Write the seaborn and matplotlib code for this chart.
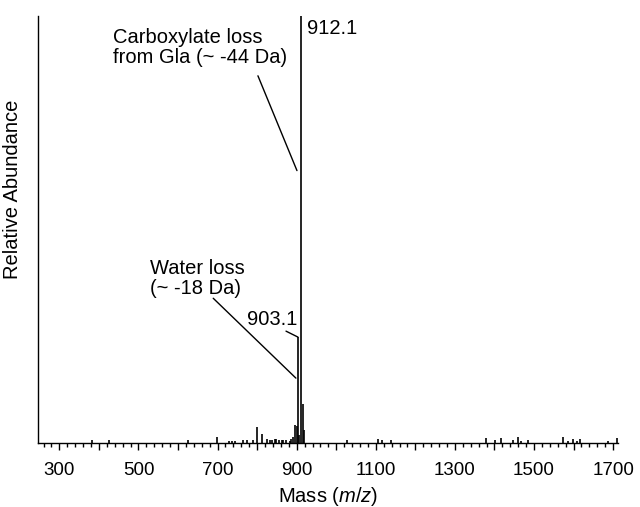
import numpy as np
import pandas as pd
import matplotlib
matplotlib.use("Agg")
import matplotlib.pyplot as plt
from matplotlib.ticker import MultipleLocator, FixedLocator
import seaborn as sns

# peak list (mass, relative abundance %)
masses = [383, 426, 625, 698, 729, 737, 744, 764, 774, 789, 800, 812, 825,
          832, 837, 845, 848, 855, 862, 865, 873, 883, 886, 890, 895, 900,
          903.1, 906, 912.1, 915, 918, 1026, 1105, 1115, 1138, 1378, 1401,
          1416, 1447, 1459, 1466, 1484, 1573, 1586, 1598, 1608, 1616, 1687,
          1710]
abundance = [0.7, 0.7, 0.7, 1.5, 0.5, 0.5, 0.5, 0.7, 0.7, 0.7, 3.7, 2.1, 0.9,
             0.6, 0.6, 0.9, 0.9, 0.7, 0.7, 0.7, 0.7, 0.5, 0.9, 1.4, 4.2, 4.0,
             24.8, 1.9, 100, 9.1, 3.0, 0.7, 0.9, 0.7, 0.7, 1.2, 0.7,
             1.2, 0.6, 1.4, 0.5, 0.7, 1.4, 0.5, 0.9, 0.5, 0.9, 0.5,
             1.2]
tick_labels = ["300", "500", "700", "900", "1100", "1300", "1500", "1700"]

df = pd.DataFrame({"mass": masses, "abund": abundance})

sns.set_style("ticks")
plt.rcParams["font.family"] = ["Liberation Sans", "DejaVu Sans"]
plt.rcParams["mathtext.fontset"] = "custom"
plt.rcParams["mathtext.rm"] = "Liberation Sans"
plt.rcParams["mathtext.it"] = "Liberation Sans:italic"
plt.rcParams["text.color"] = "black"
plt.rcParams["axes.labelcolor"] = "black"

fig = plt.figure(figsize=(6.4, 5.07), dpi=100)
ax = fig.add_axes([0.0594, 0.1262, 0.906, 0.8422])

ax.vlines(df["mass"], 0, df["abund"], color="black", linewidth=1.2)

ax.set_xlim(246, 1712)
ax.set_ylim(0, 100)
sns.despine(ax=ax)
ax.set_yticks([])

major = np.arange(300, 1701, 100)
ax.xaxis.set_major_locator(FixedLocator(major))
ax.set_xticklabels([str(t) if str(t) in tick_labels else "" for t in major])
ax.xaxis.set_minor_locator(MultipleLocator(20))
ax.tick_params(axis="x", which="major", length=5, width=1, direction="out",
               labelsize=13.5, colors="black", pad=9)
ax.tick_params(axis="x", which="minor", length=3, width=1, direction="out",
               colors="black")
for s in ["left", "bottom"]:
    ax.spines[s].set_color("black")
    ax.spines[s].set_linewidth(1)

ax.set_xlabel("Mass ($\\it{m/z}$)", fontsize=14.5, labelpad=4)
ax.set_ylabel("Relative Abundance", fontsize=14.5)
ax.yaxis.set_label_coords(-0.028, 0.595)

# labels
ax.text(926, 99.3, "912.1", fontsize=14.5, ha="left", va="top")
ax.annotate("903.1", xy=(903.3, 24.8), xytext=(774, 31.1), fontsize=14.5,
            ha="left", va="top")
ax.annotate("", xy=(903.3, 24.8), xytext=(873, 26.2),
            arrowprops=dict(arrowstyle="-", color="black", lw=1,
                            shrinkA=0, shrinkB=0))
ax.text(436, 97.2, "Carboxylate loss\nfrom Gla (~ -44 Da)", fontsize=14.5,
        ha="left", va="top", linespacing=1.1)
ax.annotate("", xy=(900.7, 63.8), xytext=(802, 86),
            arrowprops=dict(arrowstyle="-", color="black", lw=1,
                            shrinkA=0, shrinkB=0))
ax.text(529, 43.2, "Water loss\n(~ -18 Da)", fontsize=14.5,
        ha="left", va="top", linespacing=1.1)
ax.annotate("", xy=(898, 15.2), xytext=(689, 33.9),
            arrowprops=dict(arrowstyle="-", color="black", lw=1,
                            shrinkA=0, shrinkB=0))

fig.savefig("out.png", dpi=100)
